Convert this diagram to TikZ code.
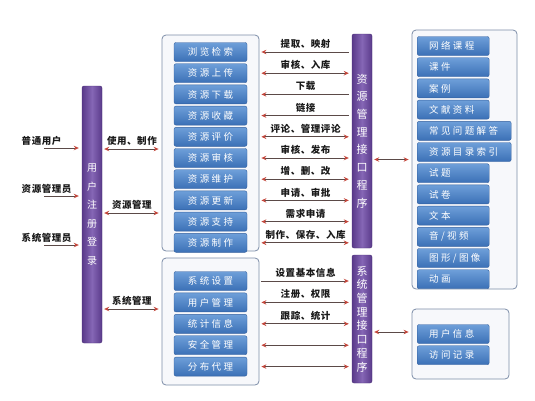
\documentclass[tikz,border=0pt]{standalone}
\usepackage{fontspec}
\setmainfont{Noto Sans CJK SC}
\newfontfamily\btnfont[LetterSpace=25]{Noto Sans CJK SC}
\newfontfamily\lblfont[LetterSpace=6]{Noto Sans CJK SC}
\usetikzlibrary{positioning,arrows.meta}

\definecolor{btntop}{HTML}{6E9FD9}
\definecolor{btnbot}{HTML}{3B70B6}
\definecolor{btnedge}{HTML}{34609E}
\definecolor{barside}{HTML}{5A3A8A}
\definecolor{barmid}{HTML}{8566B5}
\definecolor{baredge}{HTML}{4A2F78}
\definecolor{paneledge}{HTML}{7D8DA8}
\definecolor{panelfill}{HTML}{F7F8FB}
\definecolor{linec}{HTML}{5B4A48}
\definecolor{headc}{HTML}{C4473C}
\definecolor{labc}{HTML}{1A1A1A}

\begin{document}
\begin{tikzpicture}[
    x=1pt, y=-1pt,
    node distance=1.8pt,
    panel/.style={draw=paneledge, fill=panelfill, rounded corners=4pt, line width=0.8pt},
    btn/.style={draw=btnedge, rounded corners=2pt, top color=btntop, bottom color=btnbot,
        text=white, font=\btnfont\fontsize{9.5}{11}\selectfont,
        minimum width=73pt, minimum height=19pt, inner ysep=0pt},
    rbtn/.style={btn, anchor=west, minimum width=0pt, text width=48pt, align=left, inner xsep=12pt},
    bar/.style={draw=baredge, rounded corners=2pt, left color=barside, right color=barside,
        middle color=barmid, text=white, align=center, minimum width=20pt, inner xsep=0pt},
    lab/.style={font=\lblfont\bfseries\fontsize{9.5}{11}\selectfont, text=labc, inner sep=0.5pt},
    lk/.style={draw=linec, line width=0.9pt, shorten <=2pt, shorten >=3pt},
    fwd/.style={lk, -{Stealth[length=5pt,width=4.5pt,color=headc]}},
    bwd/.style={lk, {Stealth[length=5pt,width=4.5pt,color=headc]}-},
    dbl/.style={lk, {Stealth[length=5pt,width=4.5pt,color=headc]}-{Stealth[length=5pt,width=4.5pt,color=headc]}}
]
\useasboundingbox (0,0) rectangle (535,400);
\fill[white] (0,0) rectangle (535,400);

% users
\node[lab, anchor=south west] (u1) at (21,146) {普通用户};
\node[lab, anchor=south west] (u2) at (21,194) {资源管理员};
\node[lab, anchor=south west] (u3) at (21,243) {系统管理员};

% bars
\node[bar, minimum height=257pt, font=\fontsize{10}{18.6}\selectfont] (reg) at (92,214.5) {用\\户\\注\\册\\登\\录};
\node[bar, minimum height=214pt, font=\fontsize{11}{17.7}\selectfont] (ib1) at (362,141) {资\\源\\管\\理\\接\\口\\程\\序};
\node[bar, minimum height=128pt, font=\fontsize{11}{13.7}\selectfont] (ib2) at (362,319) {系\\统\\管\\理\\接\\口\\程\\序};

% panels
\node[panel, minimum width=97pt, minimum height=216pt] (mp1) at (210.5,143) {};
\node[panel, minimum width=97pt, minimum height=127pt] (mp2) at (210.5,321.5) {};
\node[panel, minimum width=105pt, minimum height=259pt] (rp1) at (464.5,159.5) {};
\node[panel, minimum width=97pt, minimum height=70pt] (rp2) at (460.5,344) {};

% resource functions
\node[btn] (b1) at (210.5,52) {浏览检索};
\node[btn, below=of b1] (b2) {资源上传};
\node[btn, below=of b2] (b3) {资源下载};
\node[btn, below=of b3] (b4) {资源收藏};
\node[btn, below=of b4] (b5) {资源评价};
\node[btn, below=of b5] (b6) {资源审核};
\node[btn, below=of b6] (b7) {资源维护};
\node[btn, below=of b7] (b8) {资源更新};
\node[btn, below=of b8] (b9) {资源支持};
\node[btn, below=of b9] (b10) {资源制作};

% system functions
\node[btn] (s1) at (210.5,281) {系统设置};
\node[btn, below=2pt of s1] (s2) {用户管理};
\node[btn, below=2pt of s2] (s3) {统计信息};
\node[btn, below=2pt of s3] (s4) {安全管理};
\node[btn, below=2pt of s4] (s5) {分布代理};

% resource library
\node[rbtn] (r1) at (417,46) {网络课程};
\node[rbtn, below=of r1.south west, anchor=north west] (r2) {课件};
\node[rbtn, below=of r2.south west, anchor=north west] (r3) {案例};
\node[rbtn, below=of r3.south west, anchor=north west] (r4) {文献资料};
\node[rbtn, below=of r4.south west, anchor=north west, text width=70pt] (r5) {常见问题解答};
\node[rbtn, below=of r5.south west, anchor=north west, text width=70pt] (r6) {资源目录索引};
\node[rbtn, below=of r6.south west, anchor=north west] (r7) {试题};
\node[rbtn, below=of r7.south west, anchor=north west] (r8) {试卷};
\node[rbtn, below=of r8.south west, anchor=north west] (r9) {文本};
\node[rbtn, below=of r9.south west, anchor=north west] (r10) {音/视频};
\node[rbtn, below=of r10.south west, anchor=north west] (r11) {图形/图像};
\node[rbtn, below=of r11.south west, anchor=north west] (r12) {动画};

% user records
\node[rbtn] (v1) at (417,334) {用户信息};
\node[rbtn, below=of v1.south west, anchor=north west] (v2) {访问记录};

% users to login
\draw[fwd] ([xshift=21pt,yshift=-2pt]u1.south west) -- ([yshift=-2pt]u1.south west -| reg.west);
\draw[fwd] ([xshift=21pt,yshift=-2pt]u2.south west) -- ([yshift=-2pt]u2.south west -| reg.west);
\draw[fwd] ([xshift=21pt,yshift=-2pt]u3.south west) -- ([yshift=-2pt]u3.south west -| reg.west);

% login to functions
\draw[dbl] ([yshift=65.5pt]reg.east) -- ([yshift=65.5pt]reg.east -| mp1.west) node[lab, midway, above=2.5pt] {使用、制作};
\draw[dbl] ([yshift=1.5pt]reg.east) -- ([yshift=1.5pt]reg.east -| mp1.west) node[lab, midway, above=2.5pt] {资源管理};
\draw[dbl] ([yshift=-94.5pt]reg.east) -- ([yshift=-94.5pt]reg.east -| mp2.west) node[lab, midway, above=2.5pt] {系统管理};

% functions to resource interface
\draw[bwd] (b1.east -| mp1.east) -- (b1.east -| ib1.west) node[lab, midway, above=2.5pt] {提取、映射};
\draw[dbl] (b2.east -| mp1.east) -- (b2.east -| ib1.west) node[lab, midway, above=2.5pt] {审核、入库};
\draw[bwd] (b3.east -| mp1.east) -- (b3.east -| ib1.west) node[lab, midway, above=2.5pt] {下载};
\draw[bwd] (b4.east -| mp1.east) -- (b4.east -| ib1.west) node[lab, midway, above=2.5pt] {链接};
\draw[dbl] (b5.east -| mp1.east) -- (b5.east -| ib1.west) node[lab, midway, above=2.5pt] {评论、管理评论};
\draw[dbl] (b6.east -| mp1.east) -- (b6.east -| ib1.west) node[lab, midway, above=2.5pt] {审核、发布};
\draw[dbl] (b7.east -| mp1.east) -- (b7.east -| ib1.west) node[lab, midway, above=2.5pt] {增、删、改};
\draw[dbl] (b8.east -| mp1.east) -- (b8.east -| ib1.west) node[lab, midway, above=2.5pt] {申请、审批};
\draw[dbl] (b9.east -| mp1.east) -- (b9.east -| ib1.west) node[lab, midway, above=2.5pt] {需求申请};
\draw[dbl] (b10.east -| mp1.east) -- (b10.east -| ib1.west) node[lab, midway, above=2.5pt] {制作、保存、入库};

% functions to system interface
\draw[fwd] (s1.east -| mp2.east) -- (s1.east -| ib2.west) node[lab, midway, above=2.5pt] {设置基本信息};
\draw[dbl] (s2.east -| mp2.east) -- (s2.east -| ib2.west) node[lab, midway, above=2.5pt] {注册、权限};
\draw[dbl] (s3.east -| mp2.east) -- (s3.east -| ib2.west) node[lab, midway, above=2.5pt] {跟踪、统计};
\draw[dbl] (s4.east -| mp2.east) -- (s4.east -| ib2.west);
\draw[dbl] (s5.east -| mp2.east) -- (s5.east -| ib2.west);

% interfaces to stores
\draw[dbl] (ib1.east |- rp1.west) -- (rp1.west);
\draw[dbl] ([yshift=-13pt]ib2.east) -- ([yshift=-13pt]ib2.east -| rp2.west);
\end{tikzpicture}
\end{document}
